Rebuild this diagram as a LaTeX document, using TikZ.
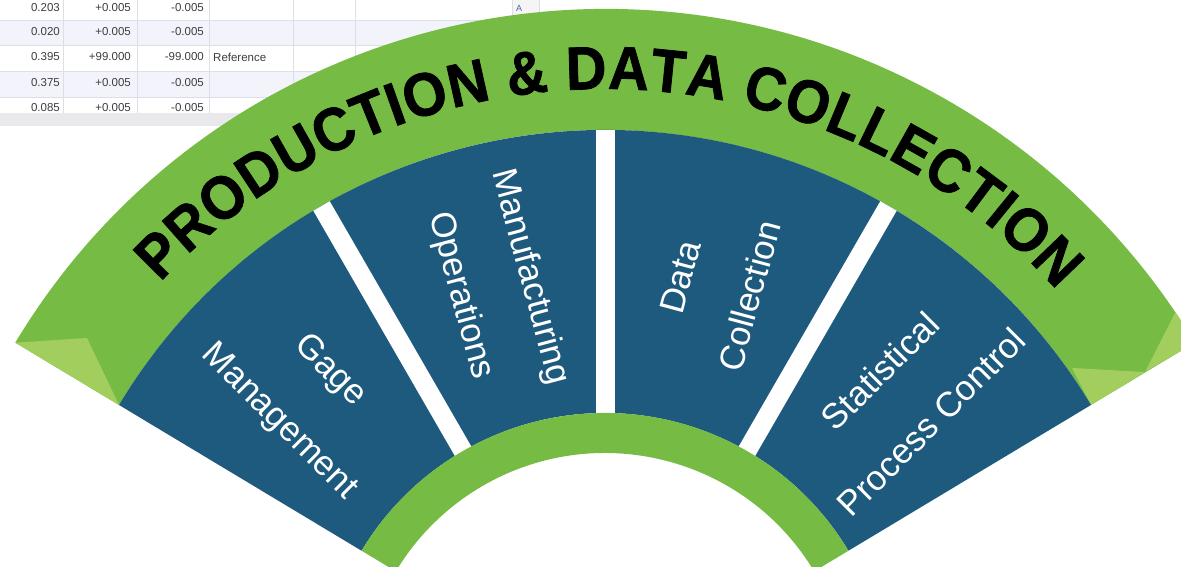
\documentclass[tikz,border=0pt]{standalone}
\usepackage{fontspec}
\setmainfont{Liberation Sans}
\newfontfamily\titleface{Liberation Sans}[FakeStretch=0.92, FakeBold=1.2]
\usetikzlibrary{decorations.text}

\definecolor{fangreen}{RGB}{118,187,67}
\definecolor{foldgreen}{RGB}{162,206,94}
\definecolor{fanblue}{RGB}{29,90,126}
\definecolor{rowlav}{RGB}{243,243,251}
\definecolor{gridgray}{RGB}{222,222,230}
\definecolor{bargray}{RGB}{233,233,237}
\definecolor{celltext}{RGB}{62,62,66}
\definecolor{colhead}{RGB}{70,100,180}

\newcommand{\titlefont}{\titleface\bfseries\fontsize{61pt}{61pt}\selectfont}

\begin{document}
\begin{tikzpicture}[x=1pt,y=1pt,
  cell/.style={font=\fontsize{11.5pt}{12pt}\selectfont, text=celltext, inner sep=0pt},
  seglabel/.style={font=\fontsize{35pt}{72pt}\selectfont, text=white, align=center, inner sep=0pt},
  gap/.style={draw=white, line width=19pt}]
\useasboundingbox (0,0) rectangle (1181,566);
\clip (0,0) rectangle (1181,566);
\fill[white] (0,0) rectangle (1181,566);

%Spreadsheet behind the fan (pixel coordinates, y down)
\begin{scope}[shift={(0,566)}, yscale=-1]
\fill[rowlav] (0,20) rectangle (545,45);
\fill[rowlav] (0,71) rectangle (545,97);
\fill[gray!8] (512,0) rectangle (539,20);
\foreach \y in {20,45,71,97} \draw[gridgray] (0,\y) -- (545,\y);
\foreach \x in {63,137,209,293,355,512,539} \draw[gridgray] (\x,0) -- (\x,113);
\foreach \nom/\up/\lo/\y [count=\i] in {0.203/+0.005/-0.005/8, 0.020/+0.005/-0.005/32, 0.395/+99.000/-99.000/57, 0.375/+0.005/-0.005/83, 0.085/+0.005/-0.005/108}{
  \node[cell, anchor=east] (nom\i) at (60,\y) {\nom};
  \node[cell, anchor=east] (up\i) at (131,\y) {\up};
  \node[cell, anchor=east] (lo\i) at (204,\y) {\lo};
}
\node[cell, anchor=west] (ref3) at (213,57) {Reference};
\node[cell, text=colhead, font=\fontsize{9pt}{9pt}\selectfont] (colA) at (519,8) {A};
%scroll bar
\fill[bargray] (0,113) rectangle (600,126);
\end{scope}

%Fan, centred below the picture
\begin{scope}[shift={(605,-131)}]
%Shape: outer band
\fill[fangreen] (149:688) arc[start angle=149, end angle=31, radius=688] -- (31:567) arc[start angle=31, end angle=149, radius=567] -- cycle;
%Shape: folds at the band ends
\fill[foldgreen] (149:688) -- (-518,359) -- (149:567) -- cycle;
\fill[foldgreen] (31:567) -- (540,325) -- (467,329) -- cycle;
\fill[foldgreen] (34:688) -- (540,325) -- (31:688) arc[start angle=31, end angle=34, radius=688] -- cycle;
%Shape: blue sectors
\fill[fanblue] (149:567) arc[start angle=149, end angle=31, radius=567] -- (31:284) arc[start angle=31, end angle=149, radius=284] -- cycle;
\foreach \a in {60,90,120} \draw[gap] (\a:270) -- (\a:567);
%Shape: inner band
\fill[fangreen] (149:284) arc[start angle=149, end angle=31, radius=284] -- (31:244) arc[start angle=31, end angle=149, radius=244] -- cycle;

\node[seglabel, rotate=-45] (gage) at (135:425) {Gage\\Management};
\node[seglabel, rotate=-75] (manuf) at (105:425) {Manufacturing\\Operations};
\node[seglabel, rotate=75] (datacol) at (75:425) {Data\\Collection};
\node[seglabel, rotate=45] (spc) at (45:425) {Statistical\\Process Control};

%Title along the band
\path[decorate, decoration={text along path, text align={fit to path},
  text={|\titlefont|PRODUCTION {\&} DATA COLLECTION}}]
  (137:608) arc[start angle=137, end angle=42, radius=608];
\end{scope}
\end{tikzpicture}
\end{document}
